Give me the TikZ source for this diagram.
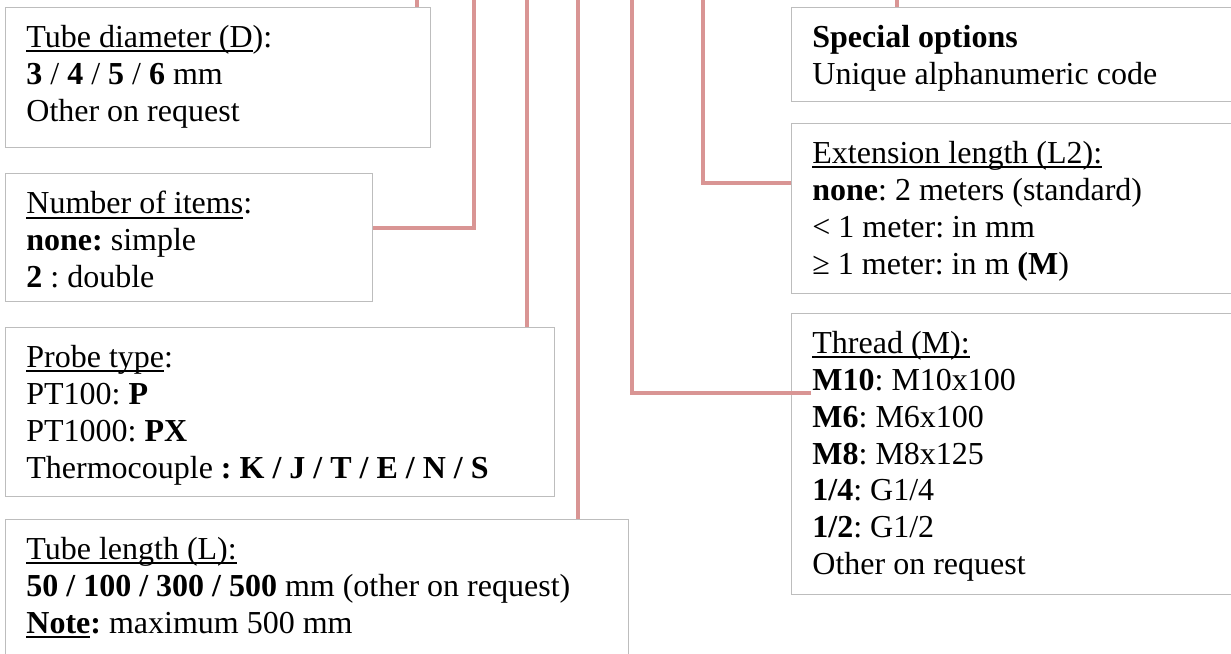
\documentclass[tikz,border=0pt]{standalone}
\usepackage{fontspec}
\setmainfont{Liberation Serif}
\usetikzlibrary{positioning,calc}
\definecolor{leadcol}{HTML}{D99594}
\definecolor{boxcol}{HTML}{BDBDBD}
\newcommand{\ulined}[1]{\leavevmode\setbox0\hbox{#1}%
  \rlap{\rule[-2.3pt]{\wd0}{0.9pt}}\box0}
\frenchspacing

\begin{document}
\begin{tikzpicture}[
  x=0.5pt, y=-0.5pt,
  font=\fontsize{16}{18.4}\selectfont,
  card/.style={draw=boxcol, line width=0.7pt, fill=white, anchor=north west,
               inner sep=0pt},
  txt/.style={anchor=north west, align=left, inner sep=0pt},
  lead/.style={draw=leadcol, line width=2pt},
]
\clip (0,0) rectangle (1231,653);

%============================ LEFT COLUMN ============================
\node[card, minimum width=212.5pt, minimum height=70pt]   (dia)   at (5,7)   {};
\node[card, minimum width=183.5pt, minimum height=64pt]   (items) at (5,173) {};
\node[card, minimum width=274.5pt, minimum height=84.5pt] (probe) at (5,327) {};
\node[card, minimum width=311.5pt, minimum height=100pt]  (len)   at (5,519) {};

\node[txt] (diatxt) at ([shift={(21,18)}]dia.north west)
  {\ulined{Tube diameter (D}):\\
   \textbf{3} / \textbf{4} / \textbf{5} / \textbf{6} mm\\
   Other on request};
\node[txt] (itemstxt) at ([shift={(21,18)}]items.north west)
  {\ulined{Number of items}:\\
   \textbf{none:} simple\\
   \textbf{2} : double};
\node[txt] (probetxt) at ([shift={(21,18)}]probe.north west)
  {\ulined{Probe type}:\\
   PT100: \textbf{P}\\
   PT1000: \textbf{PX}\\
   Thermocouple \textbf{: K / J / T / E / N / S}};
\node[txt] (lentxt) at ([shift={(21,18)}]len.north west)
  {\ulined{Tube length (L):}\\
   \textbf{50 / 100 / 300 / 500} mm (other on request)\\
   \ulined{\textbf{Note}}\textbf{:} maximum 500 mm};

%============================ RIGHT COLUMN ============================
\node[card, minimum width=250pt, minimum height=47pt]    (spec) at (791,7)   {};
\node[card, minimum width=250pt, minimum height=85pt]    (ext)  at (791,123) {};
\node[card, minimum width=250pt, minimum height=140.5pt] (thr)  at (791,313) {};

\node[txt] (spectxt) at ([shift={(21,18)}]spec.north west)
  {\textbf{Special options}\\
   Unique alphanumeric code};
\node[txt] (exttxt) at ([shift={(21,18)}]ext.north west)
  {\ulined{Extension length (L2):}\\
   \textbf{none}: 2 meters (standard)\\
   < 1 meter: in mm\\
   ≥ 1 meter: in m \textbf{(M})};
\node[txt] (thrtxt) at ([shift={(21,18)}]thr.north west)
  {\ulined{Thread (M):}\\
   \textbf{M10}: M10x100\\
   \textbf{M6}: M6x100\\
   \textbf{M8}: M8x125\\
   \textbf{1/4}: G1/4\\
   \textbf{1/2}: G1/2\\
   Other on request};

%============================ LEADS ============================
% free ends above the top edge
\coordinate (tdia)   at (417,-5);
\coordinate (titems) at (474,-5);
\coordinate (tprobe) at (527,-5);
\coordinate (tlen)   at (578,-5);
\coordinate (tthr)   at (632,-5);
\coordinate (text)   at (703,-5);
\coordinate (tspec)  at (897,-5);

\foreach \a/\b in {tdia/dia, tprobe/probe, tlen/len, tspec/spec}
  \draw[lead] (\a) -- (\a |- \b.north);

\draw[lead] ([yshift=5pt]items.east) -| (titems);
\draw[lead] ([yshift=13pt]ext.west) -| (text);
\draw[lead] ([shift={(10pt,30.75pt)}]thr.west) -| (tthr);

\end{tikzpicture}
\end{document}
